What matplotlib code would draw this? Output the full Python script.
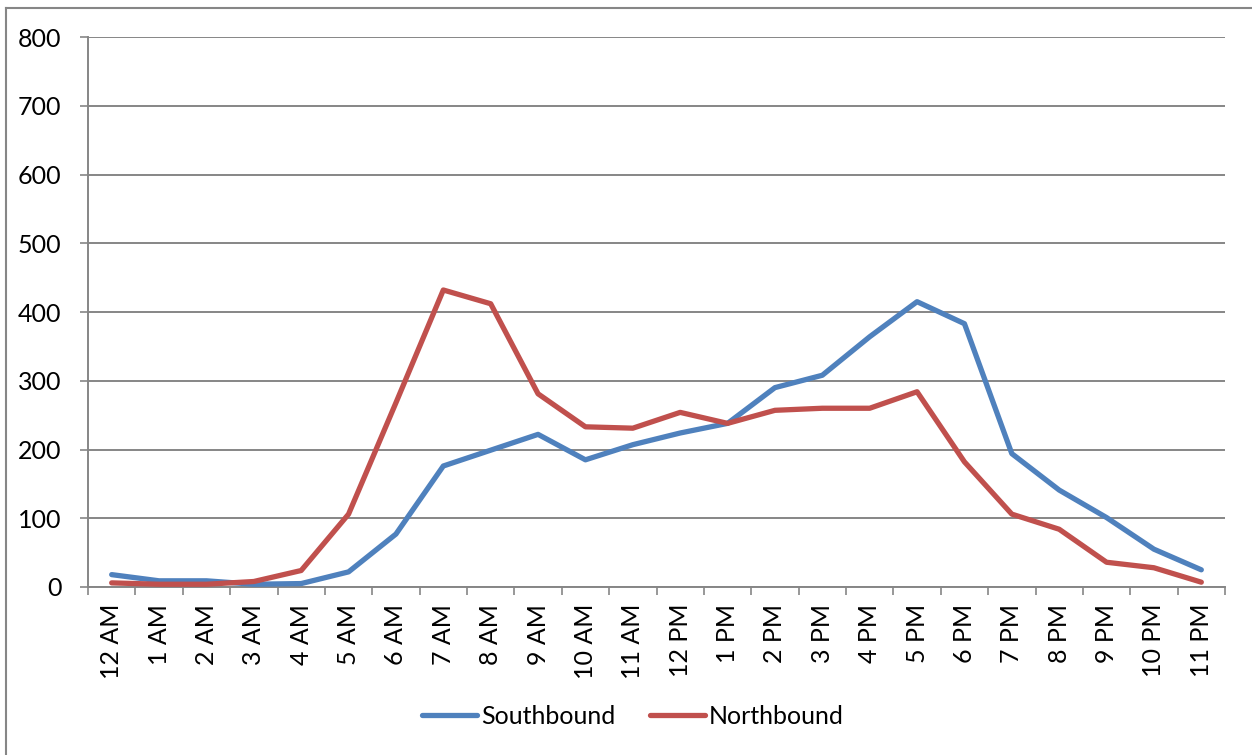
import matplotlib
matplotlib.use("Agg")
import matplotlib.pyplot as plt
from matplotlib.lines import Line2D
import numpy as np

hours = ["12 AM", "1 AM", "2 AM", "3 AM", "4 AM", "5 AM", "6 AM", "7 AM", "8 AM",
         "9 AM", "10 AM", "11 AM", "12 PM", "1 PM", "2 PM", "3 PM", "4 PM", "5 PM",
         "6 PM", "7 PM", "8 PM", "9 PM", "10 PM", "11 PM"]
southbound = [18, 9, 9, 4, 5, 22, 77, 176, 199, 222, 185, 207, 224, 238, 290, 308,
              364, 415, 383, 194, 141, 101, 55, 25]
northbound = [6, 4, 4, 8, 24, 106, 268, 432, 412, 281, 233, 231, 254, 238, 257, 260,
              260, 284, 182, 106, 84, 36, 28, 7]
yticks = [0, 100, 200, 300, 400, 500, 600, 700, 800]

plt.rcParams['font.family'] = ['Lato', 'DejaVu Sans']

W, H = 1252, 755
FS = 18
fig = plt.figure(figsize=(W / 100, H / 100), dpi=100)
ax = fig.add_axes([88 / W, (H - 587) / H, (1225 - 88) / W, (587 - 37) / H])

grid_c = '#868686'
x = np.arange(len(hours))
ax.plot(x, southbound, color='#4F81BD', lw=3.8, label='Southbound',
        solid_capstyle='round', solid_joinstyle='round', zorder=3)
ax.plot(x, northbound, color='#C0504D', lw=3.8, label='Northbound',
        solid_capstyle='round', solid_joinstyle='round', zorder=3)

ax.set_xlim(-0.5, len(hours) - 0.5)
ax.set_ylim(0, 800)
ax.set_yticks(yticks)
ax.set_yticklabels([str(v) for v in yticks], fontsize=FS)
ax.yaxis.grid(True, color=grid_c, lw=1.4)
ax.set_axisbelow(True)
ax.tick_params(axis='y', direction='out', length=6, color=grid_c, width=1.2, pad=13)

ax.set_xticks(x)
ax.set_xticklabels(hours, rotation=90, fontsize=FS)
ax.tick_params(axis='x', which='major', length=0, pad=12)
ax.set_xticks(np.arange(-0.5, len(hours)), minor=True)
ax.tick_params(axis='x', which='minor', direction='out', length=6, color=grid_c, width=1.2)

for s in ['top', 'right']:
    ax.spines[s].set_visible(False)
for s in ['left', 'bottom']:
    ax.spines[s].set_color(grid_c)
    ax.spines[s].set_linewidth(1.4)

leg = fig.legend(loc='center', bbox_to_anchor=(633 / W, 1 - 716 / H), ncol=2,
                 frameon=False, fontsize=FS, handlelength=2.2, handletextpad=0.16,
                 columnspacing=1.36)

fig.add_artist(Line2D([5.5 / W, 5.5 / W], [0, 1 - 7.5 / H], color=grid_c, lw=1.5,
                      transform=fig.transFigure))
fig.add_artist(Line2D([5.5 / W, 1], [1 - 7.5 / H, 1 - 7.5 / H], color=grid_c, lw=1.5,
                      transform=fig.transFigure))

fig.savefig('out.png', dpi=100, facecolor='white')
